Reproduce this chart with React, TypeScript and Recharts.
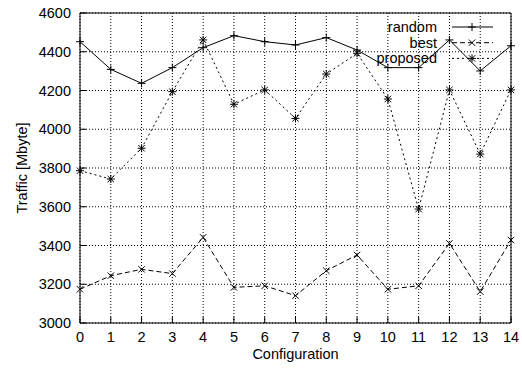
import { LineChart, Line, XAxis, YAxis, CartesianGrid, Legend } from "recharts";

const configs = [0, 1, 2, 3, 4, 5, 6, 7, 8, 9, 10, 11, 12, 13, 14];
const randomTraffic = [4452, 4309, 4237, 4318, 4421, 4483, 4452, 4435, 4473, 4409, 4318, 4318, 4461, 4301, 4431];
const bestTraffic = [3174, 3244, 3277, 3255, 3442, 3184, 3192, 3141, 3270, 3351, 3174, 3192, 3411, 3162, 3428];
const proposedTraffic = [3786, 3743, 3902, 4194, 4461, 4129, 4203, 4056, 4285, 4392, 4156, 3588, 4203, 3872, 4203];
const yTicks = [3000, 3200, 3400, 3600, 3800, 4000, 4200, 4400, 4600];

const data = configs.map((c, i) => ({
  config: c,
  random: randomTraffic[i],
  best: bestTraffic[i],
  proposed: proposedTraffic[i],
}));

const font = '"Liberation Sans", Arial, Helvetica, sans-serif';

type MarkKind = "plus" | "cross" | "star";

const series: { key: string; dash?: string; mark: MarkKind }[] = [
  { key: "random", mark: "plus" },
  { key: "best", dash: "5 3", mark: "cross" },
  { key: "proposed", dash: "2 3", mark: "star" },
];

function Mark({ cx, cy, kind }: { cx: number; cy: number; kind: MarkKind }) {
  const r = 4;
  const d = 3.2;
  let path = "";
  if (kind !== "cross") path += `M${cx - r},${cy}H${cx + r}M${cx},${cy - r}V${cy + r}`;
  if (kind !== "plus") path += `M${cx - d},${cy - d}L${cx + d},${cy + d}M${cx - d},${cy + d}L${cx + d},${cy - d}`;
  return <path d={path} stroke="#000" strokeWidth={1} fill="none" />;
}

function LegendBox() {
  return (
    <svg width={130} height={50} style={{ display: "block" }}>
      {series.map((s, i) => {
        const y = 8 + i * 15.7;
        return (
          <g key={s.key}>
            <text x={62} y={y} dy="0.35em" textAnchor="end" fontSize={14.5} fontFamily={font} fill="#000">
              {s.key}
            </text>
            <line x1={77} x2={118} y1={y} y2={y} stroke="#000" strokeDasharray={s.dash} />
            <Mark cx={97} cy={y} kind={s.mark} />
          </g>
        );
      })}
    </svg>
  );
}

const tickStyle = { fontSize: 14.5, fill: "#000", fontFamily: font };

export default function App() {
  return (
    <div style={{ position: "absolute", left: 0, top: 0, width: 522, height: 369, background: "#fff" }}>
      <LineChart width={522} height={369} data={data} margin={{ top: 0, right: 0, left: 0, bottom: 16 }}>
        <CartesianGrid stroke="#000" strokeDasharray="1 2" />
        <XAxis
          dataKey="config"
          type="number"
          domain={[0, 14]}
          ticks={configs}
          height={30}
          tickSize={-6}
          tickMargin={15}
          tick={tickStyle}
          stroke="#000"
          label={({ viewBox }: any) => (
            <text x={viewBox.x + viewBox.width / 2} y={viewBox.y + 36} textAnchor="middle" fontSize={14.5} fontFamily={font} fill="#000">
              Configuration
            </text>
          )}
        />
        <XAxis
          xAxisId="top"
          dataKey="config"
          orientation="top"
          type="number"
          domain={[0, 14]}
          ticks={configs}
          height={13}
          tickSize={-6}
          tick={false}
          stroke="#000"
        />
        <YAxis
          type="number"
          domain={[3000, 4600]}
          ticks={yTicks}
          width={80}
          tickSize={-6}
          tickMargin={15}
          tick={tickStyle}
          stroke="#000"
          label={({ viewBox }: any) => {
            const cx = viewBox.x + 27;
            const cy = viewBox.y + viewBox.height / 2;
            return (
              <text x={cx} y={cy} transform={`rotate(-90, ${cx}, ${cy})`} textAnchor="middle" fontSize={14.5} fontFamily={font} fill="#000">
                Traffic [Mbyte]
              </text>
            );
          }}
        />
        <YAxis
          yAxisId="right"
          orientation="right"
          type="number"
          domain={[3000, 4600]}
          ticks={yTicks}
          width={11}
          tickSize={-6}
          tick={false}
          stroke="#000"
        />
        <Legend
          layout="horizontal"
          align="center"
          verticalAlign="middle"
          content={() => <LegendBox />}
          wrapperStyle={{ left: 375, top: 19, width: 130, height: 50 }}
        />
        {series.map((s) => (
          <Line
            key={s.key}
            dataKey={s.key}
            stroke="#000"
            strokeWidth={1}
            strokeDasharray={s.dash}
            isAnimationActive={false}
            activeDot={false}
            dot={(p: any) => <Mark key={`${s.key}-${p.index}`} cx={p.cx} cy={p.cy} kind={s.mark} />}
          />
        ))}
      </LineChart>
    </div>
  );
}
